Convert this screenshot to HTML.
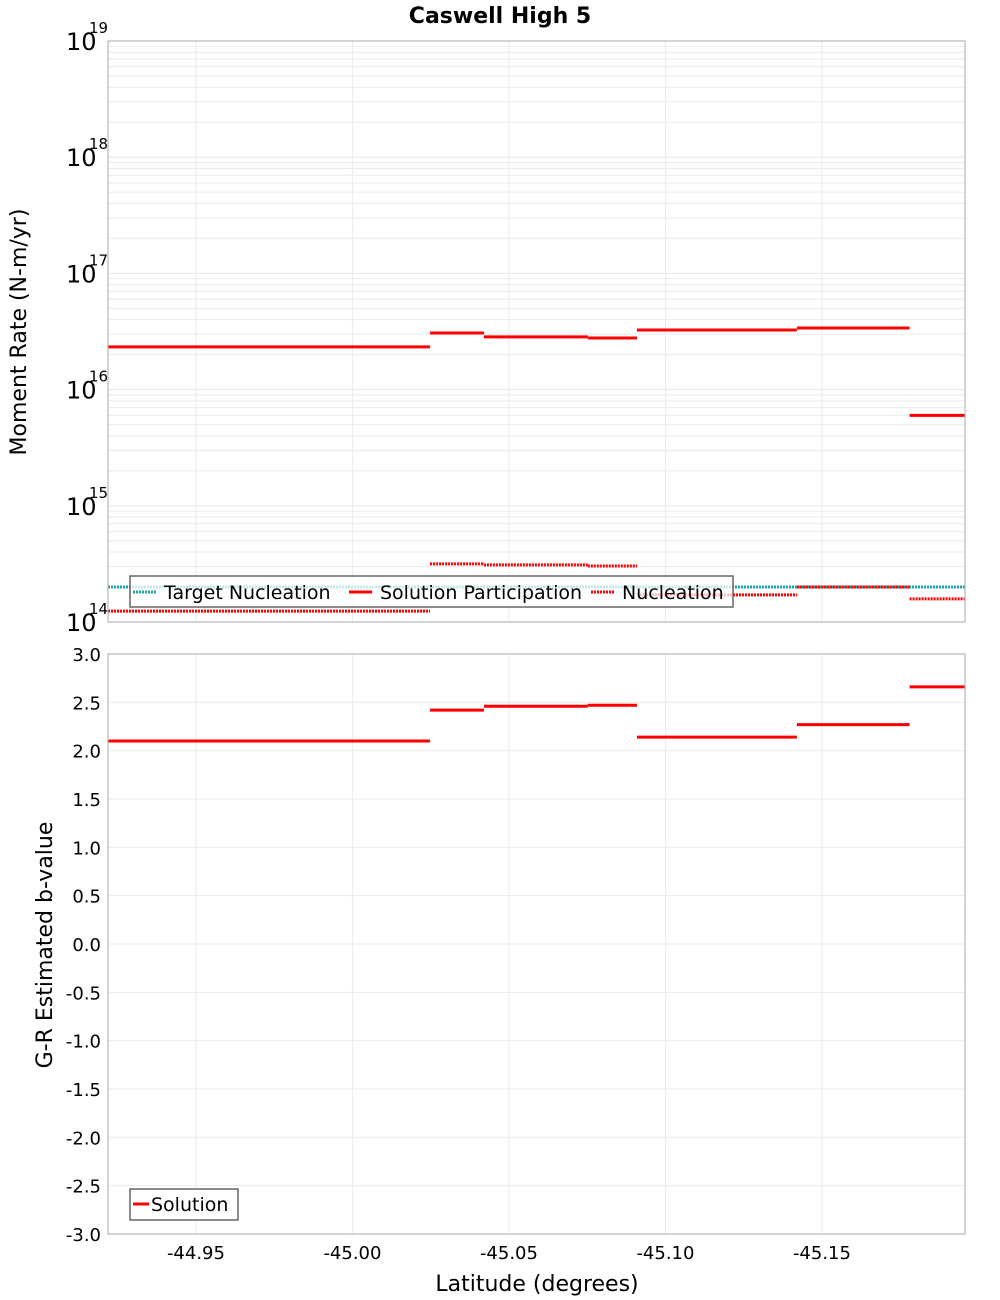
<!DOCTYPE html>
<html><head><meta charset="utf-8">
<style>
html,body{margin:0;padding:0;background:#fff;}
svg{display:block;font-family:"DejaVu Sans","Liberation Sans",sans-serif;}
</style></head>
<body>
<svg id="chart" width="1000" height="1300" viewBox="0 0 1000 1300" xmlns="http://www.w3.org/2000/svg">
<text x="500" y="23" text-anchor="middle" font-size="22" font-weight="bold">Caswell High 5</text>
<g id="topPlot"></g>
<g id="botPlot"></g>
<text x="537" y="1291" text-anchor="middle" font-size="22">Latitude (degrees)</text>
<text transform="translate(26,332) rotate(-90)" text-anchor="middle" font-size="22">Moment Rate (N-m/yr)</text>
<text transform="translate(52,945) rotate(-90)" text-anchor="middle" font-size="22">G-R Estimated b-value</text>
</svg>
<script>
// Segment boundaries (latitude)
const segEdges = [-44.9219, -45.0248, -45.042, -45.0752, -45.0909, -45.142, -45.178, -45.1957];
const participation = [2.33e16, 3.07e16, 2.84e16, 2.78e16, 3.26e16, 3.39e16, 6.0e15];
const nucleation = [1.24e14, 3.16e14, 3.1e14, 3.03e14, 1.71e14, 2.0e14, 1.58e14];
const targetNucleation = [2.0e14];
const bValues = [2.10, 2.42, 2.46, 2.47, 2.14, 2.27, 2.66];
const xTicks = [-44.95, -45.00, -45.05, -45.10, -45.15];
const xTickLabels = ["-44.95", "-45.00", "-45.05", "-45.10", "-45.15"];
const yTopExps = [14, 15, 16, 17, 18, 19];
const yBotTicks = [3.0, 2.5, 2.0, 1.5, 1.0, 0.5, 0.0, -0.5, -1.0, -1.5, -2.0, -2.5, -3.0];

const NS = "http://www.w3.org/2000/svg";
const L = 108, R = 965;
const xMin = -44.9219, xMax = -45.1957;
const xs = v => L + (v - xMin) / (xMax - xMin) * (R - L);
const T1 = 41, B1 = 622;
const yTop = v => B1 - (Math.log10(v) - 14) / 5 * (B1 - T1);
const T2 = 654, B2 = 1234;
const yBot = v => B2 - (v + 3) / 6 * (B2 - T2);

function mk(tag, attrs, parent) {
  const e = document.createElementNS(NS, tag);
  for (const k in attrs) e.setAttribute(k, attrs[k]);
  parent.appendChild(e);
  return e;
}
const topG = document.getElementById('topPlot');
const botG = document.getElementById('botPlot');

// Top grid
for (let e = 14; e < 19; e++) {
  for (let m = 2; m <= 9; m++) {
    const g = mk('line', {x1: L, x2: R, y1: yTop(m * Math.pow(10, e)), y2: yTop(m * Math.pow(10, e)), stroke: '#ebebeb', 'stroke-width': 1}, topG);
    
    
  }
}
for (const e of yTopExps) {
  const g = mk('line', {x1: L, x2: R, y1: yTop(Math.pow(10, e)), y2: yTop(Math.pow(10, e)), stroke: '#e6e6e6', 'stroke-width': 1}, topG);
  
  
  const t = mk('text', {x: 66, y: yTop(Math.pow(10, e)) + 9, 'font-size': 24}, topG);
  
  
  t.textContent = '10';
  const s = mk('text', {x: 89, y: yTop(Math.pow(10, e)) - 8, 'font-size': 15}, topG);
  
  
  s.textContent = String(e);
}
// Bottom grid
for (const v of yBotTicks) {
  const g = mk('line', {x1: L, x2: R, y1: yBot(v), y2: yBot(v), stroke: '#ebebeb', 'stroke-width': 1}, botG);
  
  
  const t = mk('text', {x: 101, y: yBot(v) + 7, 'font-size': 18, 'text-anchor': 'end'}, botG);
  
  
  t.textContent = v.toFixed(1);
}
// vertical grid & x ticks
xTicks.forEach((v, i) => {
  for (const [p, a, b] of [[topG, T1, B1], [botG, T2, B2]]) {
    const g = mk('line', {x1: xs(v), x2: xs(v), y1: a, y2: b, stroke: '#ebebeb', 'stroke-width': 1}, p);
    
    
  }
  const t = mk('text', {x: xs(v), y: 1259, 'font-size': 18, 'text-anchor': 'middle'}, botG);
  
  
  t.textContent = xTickLabels[i];
});

// Series
function steps(parent, vals, yf, style, name) {
  vals.forEach((v, i) => {
    const l = mk('line', Object.assign({x1: xs(segEdges[i]), x2: xs(segEdges[i + 1]), y1: yf(v), y2: yf(v)}, style), parent);
    
    
  });
}
const tl = mk('line', {x1: L, x2: R, y1: yTop(targetNucleation[0]), y2: yTop(targetNucleation[0]), stroke: '#1aa8a8', 'stroke-width': 3, 'stroke-dasharray': '2 1'}, topG);


steps(topG, nucleation, yTop, {stroke: '#ff0000', 'stroke-width': 3, 'stroke-dasharray': '2 1'}, 'nucleation-segment');
steps(topG, participation, yTop, {stroke: '#ff0000', 'stroke-width': 3}, 'participation-segment');
steps(botG, bValues, yBot, {stroke: '#ff0000', 'stroke-width': 3}, 'b-value-segment');

// frames
for (const [p, a, b, n] of [[topG, T1, B1, 'top-plot-frame'], [botG, T2, B2, 'bottom-plot-frame']]) {
  const r = mk('rect', {x: L, y: a, width: R - L, height: b - a, fill: 'none', stroke: '#aaaaaa', 'stroke-width': 1}, p);
  
  
}

// Top legend
const lg = mk('g', {}, topG);


mk('rect', {x: 130, y: 576, width: 603, height: 31, fill: 'rgba(255,255,255,0.75)', stroke: '#666', 'stroke-width': 1.5}, lg);
const items = [
  {x: 133, t: 'Target Nucleation', c: '#1aa8a8', d: '2 1'},
  {x: 349, t: 'Solution Participation', c: '#ff0000', d: ''},
  {x: 591, t: 'Nucleation', c: '#ff0000', d: '2 1'}
];
items.forEach(it => {
  const ln = mk('line', {x1: it.x, x2: it.x + 23, y1: 592, y2: 592, stroke: it.c, 'stroke-width': 3}, lg);
  if (it.d) ln.setAttribute('stroke-dasharray', it.d);
  
  
  const t = mk('text', {x: it.x + 31, y: 599, 'font-size': 19}, lg);
  
  
  t.textContent = it.t;
});
// Bottom legend
const lg2 = mk('g', {}, botG);


mk('rect', {x: 130, y: 1189, width: 108, height: 31, fill: '#fff', stroke: '#666', 'stroke-width': 1.5}, lg2);
const sl = mk('line', {x1: 133, x2: 149, y1: 1204, y2: 1204, stroke: '#ff0000', 'stroke-width': 3}, lg2);


const st = mk('text', {x: 151, y: 1211, 'font-size': 19}, lg2);


st.textContent = 'Solution';
</script>
</body></html>
